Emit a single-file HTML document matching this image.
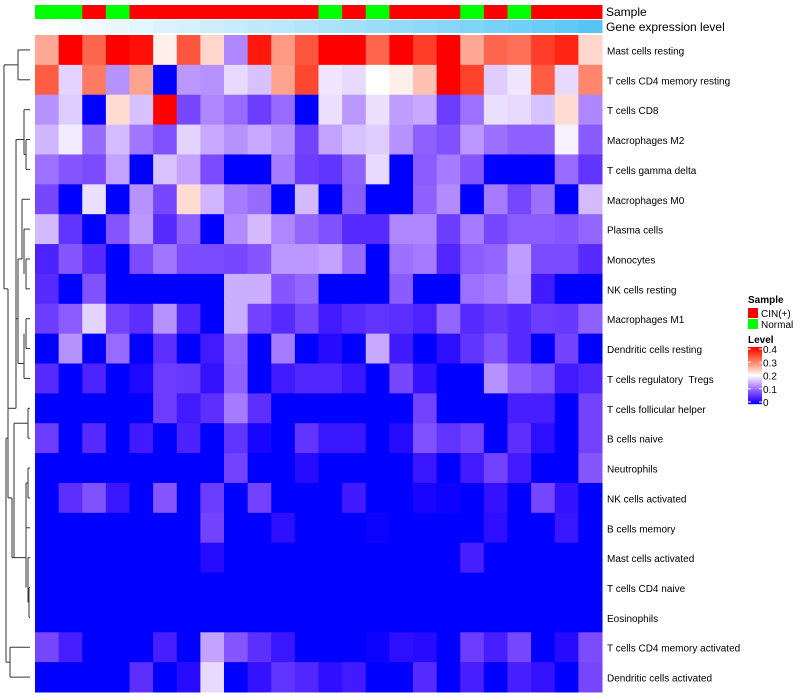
<!DOCTYPE html>
<html><head><meta charset="utf-8">
<style>
html,body{margin:0;padding:0;background:#fff;width:800px;height:700px;overflow:hidden;font-family:"Liberation Sans",sans-serif;}
svg text{font-family:"Liberation Sans",sans-serif;white-space:pre;}
</style></head>
<body>
<svg id="chart" width="800" height="700" xmlns="http://www.w3.org/2000/svg">
<g id="dendro" stroke="#333" stroke-width="1" fill="none"></g>
<g id="cells"></g>
<g id="annot"></g>
<g id="labels" font-size="10" fill="#000"></g>
<g id="legend"></g>
</svg>
<script>
const rowNames = ["Mast cells resting","T cells CD4 memory resting","T cells CD8","Macrophages M2","T cells gamma delta","Macrophages M0","Plasma cells","Monocytes","NK cells resting","Macrophages M1","Dendritic cells resting","T cells regulatory \u00a0Tregs","T cells follicular helper","B cells naive","Neutrophils","NK cells activated","B cells memory","Mast cells activated","T cells CD4 naive","Eosinophils","T cells CD4 memory activated","Dendritic cells activated"];
// Sample group per column: 1 = CIN(+), 0 = Normal
const sampleGroup = [0,0,1,0,1,1,1,1,1,1,1,1,0,1,0,1,1,1,0,1,0,1,1,1];
// Gene expression level annotation (0..1)
const geneLevel = [0,0.04,0.08,0.12,0.16,0.2,0.24,0.28,0.32,0.36,0.4,0.44,0.48,0.52,0.56,0.6,0.64,0.68,0.72,0.76,0.8,0.84,0.9,0.96];
// Level values (0..10 scale => 0..0.4)
const r01=[6.7,10,8,10,9.7,5.3,8.3,5.8,3,9.5,7,8.3,10,10,8,10,8.8,10,6.7,8,7.8,8.8,9.3,5.8];
const r02=[8.2,4.3,7.6,3.2,6.8,0,3.3,3.2,4.4,4,6.8,8.6,4.6,4.4,5,5.3,6.2,10,8.7,4.2,4.6,8.2,4.4,7.4];
const r03=[3.2,4.2,0,5.7,4,10,1.8,3,2.5,1.6,2.5,0,4.5,3.3,4.5,3.4,3.6,1.6,2.6,4.5,4.4,4,5.7,3];
const r04=[3.8,4.7,2.5,3.9,2.7,2,4.3,3.6,3.2,3.6,3.2,1.7,3.5,4,4.2,3.2,2.3,2,3.3,2.6,2.3,2.3,4.8,2.2];
const r05=[2.6,2.1,1.9,3.5,0,4,3.5,1.9,0,0,2.8,1.6,1.4,2.3,4.4,0,2.2,2.8,2.1,0,0,0,2.5,1.4];
const r06=[1.8,0,4.5,0,3.2,1.8,5.7,3.8,2.8,2.5,0,3.9,0,2.2,0,0,2.3,3.1,0,2.8,1.8,2.6,0,3.9];
const r07=[3.9,1.4,0,2.1,3.3,1.2,2.3,0,3.1,3.9,3,2.4,2,1.2,1.2,3,3,1.6,2.8,1.8,2.2,2.2,2.1,2.4];
const r08=[1,2.1,1.2,0,1.9,2.7,1.9,1.9,1.8,2.1,3.3,3.3,3.5,2.5,0,2.6,2.8,1.1,2.2,2.4,3.4,1.9,1.9,1.2];
const r09=[1.2,0,2,0,0,0,0,0,3.7,3.7,2.1,2.4,0,0,0,2.2,0,0,2.6,2.8,3.3,0.8,0,0];
const r10=[1.6,2.2,4.3,1.7,1.3,3.2,1.1,0,3.7,1.7,1.2,1.8,0.8,1.2,1.4,1.3,1,2.4,1.2,1.5,1.2,1.6,1.5,2.3];
const r11=[0,3.2,0,2.5,0,1.3,0,0.8,2.4,0,2.8,0,0.4,0,3.6,0.8,0,0.5,1.4,2,1.2,0,1.7,0];
const r12=[1.2,0,1,0,0.3,1.6,1.5,0.6,2.3,0,0.8,1.1,1.1,0.7,0,1.8,0.6,0,0,3.2,2.3,2,0.8,1.1];
const r13=[0,0,0,0,0,1.6,0.8,1.3,2.8,1.3,0,0,0,0,0,0,1.7,0,0,0,0.9,0.9,0,1.7];
const r14=[1.6,0,1.2,0,0.8,0,1,0,1.4,0.2,0,1.4,0.7,0.7,0,0.4,2,1.4,1.7,0,1.3,0.5,0,1.7];
const r15=[0,0,0,0,0,0,0,0,1.7,0,0,0.4,0,0,0,0,0.7,0,0.8,1.7,0.8,0,0,2.1];
const r16=[0,1.3,2,0.7,0,2.1,0,1.6,0,1.7,0,0,0,0.8,0,0,0.2,0.1,0,0.6,0,1.8,0.6,0];
const r17=[0,0,0,0,0,0,0,1.7,0,0,0.5,0,0,0,0.1,0,0,0,0,0.5,0,0,0.7,0];
const r18=[0,0,0,0,0,0,0,0.4,0,0,0,0,0,0,0,0,0,0,0.9,0,0,0,0,0];
const r19=[0,0,0,0,0,0,0,0,0,0,0,0,0,0,0,0,0,0,0,0,0,0,0,0];
const r20=[0,0,0,0,0,0,0,0,0,0,0,0,0,0,0,0,0,0,0,0,0,0,0,0];
const r21=[1.8,0.9,0,0,0,0.9,0,3.5,2.1,1.3,0.7,0,0,0,0.1,0.5,0.4,0,1.6,0.9,1.8,0,0.4,1.9];
const r22=[0,0,0,0,1.3,0,0.4,4.4,0,0.6,1.4,1.1,0.5,0.8,0,0,1.2,0,0.9,0,0.9,0.6,0,1.8];
const rowValues=[r01,r02,r03,r04,r05,r06,r07,r08,r09,r10,r11,r12,r13,r14,r15,r16,r17,r18,r19,r20,r21,r22];
const legendTicks=["0.4","0.3","0.2","0.1","0"];
const legendTickVals=[0.4,0.3,0.2,0.1,0];

const NS="http://www.w3.org/2000/svg";
function mk(tag,attrs,parent){const e=document.createElementNS(NS,tag);for(const k in attrs)e.setAttribute(k,attrs[k]);parent.appendChild(e);return e;}
const X0=35,X1=602,Y0=35,Y1=692;
const nCol=24,nRow=rowNames.length;
const cw=(X1-X0)/nCol,rh=(Y1-Y0)/nRow;
const xPos=i=>X0+i*cw, yPos=j=>Y0+j*rh;
function color(code){
  let r,g,b;
  if(code<=5){const t=Math.max(0,code)/5;r=255*Math.pow(t,0.75);g=255*Math.pow(t,1.25);b=255;}
  else{const t=Math.min(1,(code-5)/5);r=255;g=255*Math.pow(1-t,1.0);b=255*Math.pow(1-t,1.3);}
  return `rgb(${Math.round(r)},${Math.round(g)},${Math.round(b)})`;
}
const cells=document.getElementById('cells');
rowValues.forEach((row,j)=>{row.forEach((v,i)=>{
  const r=mk('rect',{x:xPos(i),y:yPos(j),width:cw+0.5,height:rh+0.5,fill:color(v)},cells);
  
  
});});
const annot=document.getElementById('annot');
sampleGroup.forEach((s,i)=>{
  const r=mk('rect',{x:xPos(i),y:5,width:cw+0.5,height:14,fill:s?'#ff0000':'#00ff00'},annot);
  
  
});
geneLevel.forEach((g,i)=>{
  const c=`rgb(${Math.round(255-176*g)},${Math.round(255-60*g)},${Math.round(255-10*g)})`;
  const r=mk('rect',{x:xPos(i),y:20,width:cw+0.5,height:13,fill:c},annot);
  
  
});
let t=mk('text',{x:606,y:16,'font-size':12},annot);t.textContent='Sample';


t=mk('text',{x:606,y:31,'font-size':12},annot);t.textContent='Gene expression level';


const labels=document.getElementById('labels');
rowNames.forEach((n,j)=>{
  const e=mk('text',{x:607,y:yPos(j)+rh/2+4.5},labels);e.textContent=n;
  
  
});
const d=document.getElementById('dendro');
const yc=j=>yPos(j)+rh/2;
const segs=[
 [30,yc(0),18,yc(0)],[30,yc(1),18,yc(1)],[18,yc(0),18,yc(1)],[18,(yc(0)+yc(1))/2,4,(yc(0)+yc(1))/2],
 [4,(yc(0)+yc(1))/2,4,yc(8)],
 [30,yc(2),24,yc(2)],[30,yc(3),26,yc(3)],[30,yc(4),26,yc(4)],[26,yc(3),26,yc(4)],[26,(yc(3)+yc(4))/2,24,(yc(3)+yc(4))/2],[24,yc(2),24,(yc(3)+yc(4))/2],
 [24,(yc(2)+yc(4))/2,16,(yc(2)+yc(4))/2],[16,(yc(2)+yc(4))/2,16,yc(12)],[16,yc(12),8,yc(12)],[8,yc(12),8,yc(8)],[4,yc(8),8,yc(8)],
 [30,yc(5),22,yc(5)],[30,yc(6),24,yc(6)],[30,yc(7),26,yc(7)],[30,yc(8),26,yc(8)],[26,yc(7),26,yc(8)],[24,yc(6),24,yc(7.5)],[22,yc(5),22,yc(7)],[22,yc(7),18,yc(7)],
 [30,yc(9),26,yc(9)],[30,yc(10),26,yc(10)],[26,yc(9),26,yc(10)],[30,yc(11),24,yc(11)],[24,yc(11),24,yc(9.5)],[24,yc(10.5),18,yc(10.5)],[18,yc(7),18,yc(10.5)],[18,yc(9),16,yc(9)],
 [30,yc(12),28,yc(12)],[30,yc(13),28,yc(13)],[28,yc(12),28,yc(13)],[28,yc(12.5),14,yc(12.5)],
 [30,yc(14),28,yc(14)],[30,yc(15),28,yc(15)],[28,yc(14),28,yc(15)],[30,yc(16),26,yc(16)],[26,yc(14.5),26,yc(16)],[28,yc(14.5),26,yc(14.5)],
 [30,yc(17),28,yc(17)],[30,yc(18),29,yc(18)],[30,yc(19),29,yc(19)],[29,yc(18),29,yc(19)],[28,yc(17),28,yc(18.5)],[26,yc(16),26,yc(18)],[26,yc(17),12,yc(17)],
 [14,yc(12.5),14,yc(17)],[12,yc(15),12,yc(17)],[8,yc(12),8,yc(15)],[8,yc(15),12,yc(15)],
 [30,yc(20),10,yc(20)],[30,yc(21),10,yc(21)],[10,yc(20),10,yc(21)],[10,yc(20.5),6,yc(20.5)],[6,yc(20.5),6,yc(13)],[6,yc(13),8,yc(13)]
];
segs.forEach(s=>{const l=mk('line',{x1:s[0],y1:s[1],x2:s[2],y2:s[3]},d);
  
  });
const lg=document.getElementById('legend');
t=mk('text',{x:748,y:303,'font-size':10,'font-weight':'bold'},lg);t.textContent='Sample';


[['CIN(+)','#ff0000',308],['Normal','#00ff00',319]].forEach(a=>{
  const r=mk('rect',{x:748,y:a[2],width:10,height:10,fill:a[1]},lg);
  
  
  const tx=mk('text',{x:761,y:a[2]+9,'font-size':10},lg);tx.textContent=a[0];
  
  
});
t=mk('text',{x:748,y:343,'font-size':10,'font-weight':'bold'},lg);t.textContent='Level';


const gy0=347,gy1=404;
for(let k=0;k<57;k++){const v=10*(1-k/56);
  const r=mk('rect',{x:748,y:gy0+k,width:14,height:1.2,fill:color(v)},lg);
  
  }
legendTicks.forEach((lab,k)=>{const y=gy1-(legendTickVals[k]/0.4)*(gy1-gy0-4)-2;
  mk('line',{x1:748,y1:y,x2:751,y2:y,stroke:'#fff'},lg);
  mk('line',{x1:759,y1:y,x2:762,y2:y,stroke:'#fff'},lg);
  const tx=mk('text',{x:763,y:y+4,'font-size':10},lg);tx.textContent=lab;
  
  });
</script>
</body></html>
